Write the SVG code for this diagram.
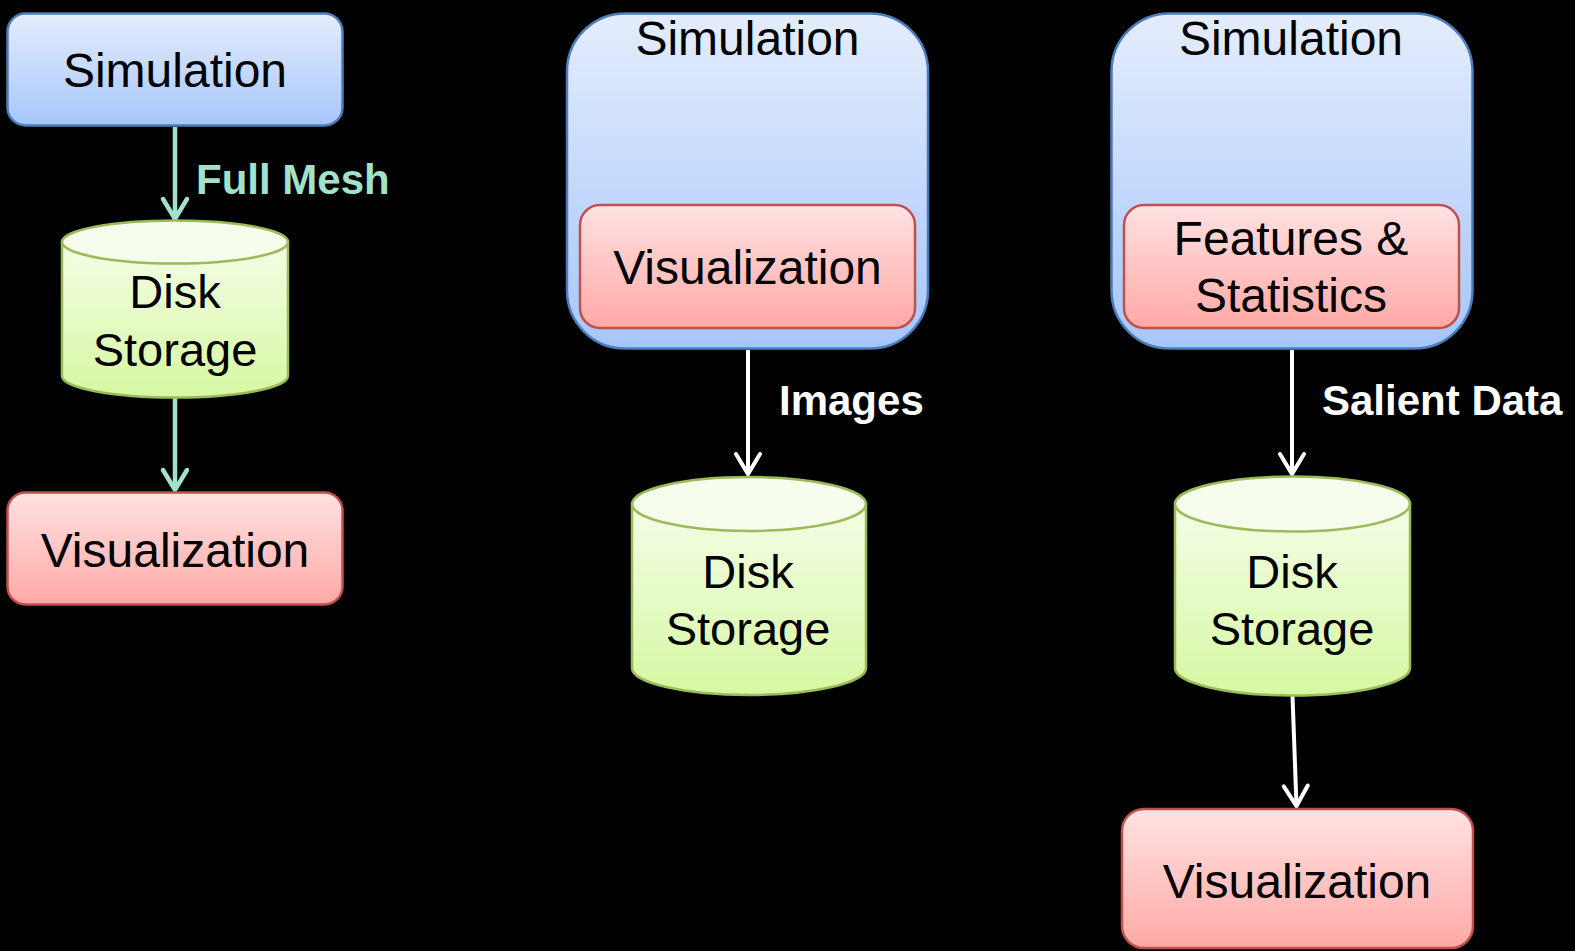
<svg xmlns="http://www.w3.org/2000/svg" width="1575" height="951" viewBox="0 0 1575 951">
  <defs>
    <linearGradient id="gBlue" x1="0" y1="0" x2="0" y2="1">
      <stop offset="0" stop-color="#e4edfd"/>
      <stop offset="1" stop-color="#a6c6fa"/>
    </linearGradient>
    <linearGradient id="gRed" x1="0" y1="0" x2="0" y2="1">
      <stop offset="0" stop-color="#ffe2e2"/>
      <stop offset="1" stop-color="#ffa9a6"/>
    </linearGradient>
    <linearGradient id="gGreen" x1="0" y1="0" x2="0" y2="1">
      <stop offset="0" stop-color="#f4fde6"/>
      <stop offset="1" stop-color="#d6f8a2"/>
    </linearGradient>
    <marker id="headMint" markerUnits="userSpaceOnUse" markerWidth="40" markerHeight="40" viewBox="-25 -20 30 40" refX="0" refY="0" orient="auto" overflow="visible">
      <path d="M-20,-12 L0,0 L-20,12" fill="none" stroke="#a2e2cb" stroke-width="4.5" stroke-linecap="round" stroke-linejoin="miter"/>
    </marker>
    <marker id="headWhite" markerUnits="userSpaceOnUse" markerWidth="40" markerHeight="40" viewBox="-25 -20 30 40" refX="0" refY="0" orient="auto" overflow="visible">
      <path d="M-20,-12 L0,0 L-20,12" fill="none" stroke="#ffffff" stroke-width="4" stroke-linecap="round" stroke-linejoin="miter"/>
    </marker>
  </defs>
  <style>
    .sim { fill: url(#gBlue); stroke: #4a7ebb; stroke-width: 2.5; }
    .vis { fill: url(#gRed); stroke: #c0504d; stroke-width: 2.5; }
    .disk { fill: url(#gGreen); stroke: #9bbb59; stroke-width: 2.5; }
    .disktop { fill: #f6fdec; stroke: #9bbb59; stroke-width: 2.5; }
    .t { font-family: "Liberation Sans", Arial, sans-serif; font-size: 48px; fill: #000; text-anchor: middle; }
    .td { font-family: "Liberation Sans", Arial, sans-serif; font-size: 47px; fill: #000; text-anchor: middle; }
    .lbl { font-family: "Liberation Sans", Arial, sans-serif; font-size: 42px; font-weight: bold; }
    .mint { stroke: #a2e2cb; stroke-width: 4.5; fill: none; marker-end: url(#headMint); }
    .white { stroke: #ffffff; stroke-width: 4; fill: none; marker-end: url(#headWhite); }
  </style>

  <rect x="0" y="0" width="1575" height="951" fill="#000000"/>

  <!-- connectors -->
  <g id="connectors">
    <line class="mint" x1="175" y1="127" x2="175" y2="219"/>
    <line class="mint" x1="175" y1="398" x2="175" y2="490"/>
    <line class="white" x1="748" y1="350" x2="748" y2="474"/>
    <line class="white" x1="1292" y1="350" x2="1292" y2="474"/>
    <line class="white" x1="1292.5" y1="696" x2="1296.5" y2="806"/>
    <text class="lbl" x="196" y="194" fill="#a2e2cb">Full Mesh</text>
    <text class="lbl" x="779" y="415" fill="#ffffff">Images</text>
    <text class="lbl" x="1322" y="415" fill="#ffffff">Salient Data</text>
  </g>

  <!-- column 1: post-processing pipeline -->
  <g id="sim1">
    <rect class="sim" x="7.5" y="13.5" width="335" height="112" rx="18"/>
    <text class="t" x="175" y="87">Simulation</text>
  </g>
  <g id="disk1">
    <path class="disk" d="M62,242 L62,376 A113,21.5 0 0 0 288,376 L288,242 Z"/>
    <ellipse class="disktop" cx="175" cy="242" rx="113" ry="21.5"/>
    <text class="td" x="175" y="308">Disk</text>
    <text class="td" x="175" y="366">Storage</text>
  </g>
  <g id="vis1">
    <rect class="vis" x="7.5" y="492.5" width="335" height="112" rx="18"/>
    <text class="t" x="175" y="567">Visualization</text>
  </g>

  <!-- column 2: in situ visualization -->
  <g id="sim2">
    <rect class="sim" x="567" y="13.5" width="361" height="335" rx="58"/>
    <text class="t" x="747.5" y="55">Simulation</text>
    <g id="vis2">
      <rect class="vis" x="580" y="205" width="335" height="123" rx="20"/>
      <text class="t" x="747.5" y="284">Visualization</text>
    </g>
  </g>
  <g id="disk2">
    <path class="disk" d="M632,504 L632,668 A117,27 0 0 0 866,668 L866,504 Z"/>
    <ellipse class="disktop" cx="749" cy="504" rx="117" ry="27"/>
    <text class="td" x="748" y="588">Disk</text>
    <text class="td" x="748" y="645">Storage</text>
  </g>

  <!-- column 3: in situ feature extraction -->
  <g id="sim3">
    <rect class="sim" x="1111.5" y="13.5" width="361" height="335" rx="58"/>
    <text class="t" x="1291" y="55">Simulation</text>
    <g id="feat3">
      <rect class="vis" x="1124" y="205" width="335" height="123" rx="20"/>
      <text class="t" x="1291" y="255">Features &amp;</text>
      <text class="t" x="1291" y="312">Statistics</text>
    </g>
  </g>
  <g id="disk3">
    <path class="disk" d="M1175,504 L1175,668 A117.5,27.5 0 0 0 1410,668 L1410,504 Z"/>
    <ellipse class="disktop" cx="1292.5" cy="504" rx="117.5" ry="27.5"/>
    <text class="td" x="1292" y="588">Disk</text>
    <text class="td" x="1292" y="645">Storage</text>
  </g>
  <g id="vis3">
    <rect class="vis" x="1122" y="809" width="351" height="139" rx="22"/>
    <text class="t" x="1297" y="898">Visualization</text>
  </g>
</svg>
